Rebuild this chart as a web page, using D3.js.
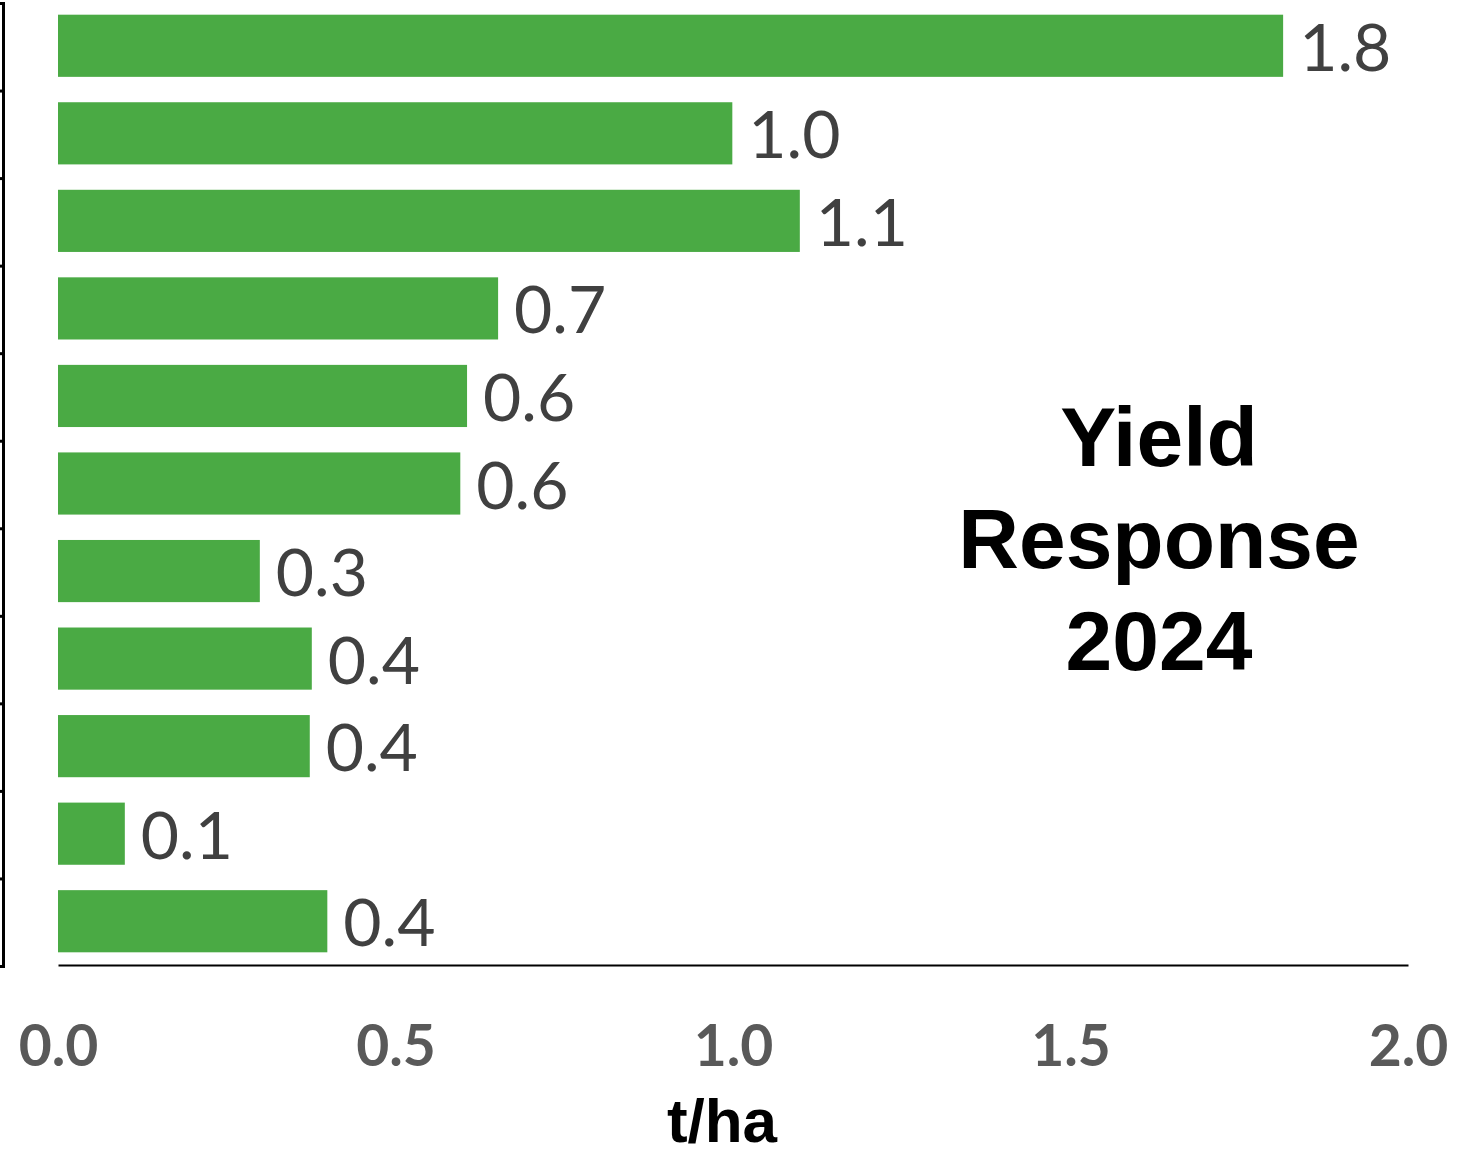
<!DOCTYPE html>
<html>
<head>
<meta charset="utf-8">
<script src="https://cdn.jsdelivr.net/npm/d3@7"></script>
<style>
  body { margin: 0; background: #fff; }
</style>
</head>
<body>
<svg id="chart" width="1473" height="1156"></svg>
<script>
// categories are cut off in the picture, so the names are placeholders
const categories = ['T1', 'T2', 'T3', 'T4', 'T5', 'T6', 'T7', 'T8', 'T9', 'T10', 'T11'];
const yieldValues = [1.815, 0.999, 1.099, 0.652, 0.606, 0.596, 0.299, 0.376, 0.373, 0.099, 0.399];
const valueLabels = ['1.8', '1.0', '1.1', '0.7', '0.6', '0.6', '0.3', '0.4', '0.4', '0.1', '0.4'];
const xTicks = [0, 0.5, 1.0, 1.5, 2.0];
const titleLines = ['Yield', 'Response', '2024'];

const svg = d3.select('#chart');

const x = d3.scaleLinear().domain([0, 2]).range([58, 1408]);
const y = d3.scaleBand().domain(categories).range([2, 965]).paddingInner(0.29).paddingOuter(0.145);

// left axis line with ticks at the band edges
const edge = d3.scaleLinear().domain([0, categories.length]).range([966, 3]);
const leftAxis = svg.append('g')
  .attr('transform', 'translate(3,0)')
  .call(d3.axisLeft(edge).tickValues(d3.range(categories.length + 1)).tickFormat('').tickSize(5).tickSizeOuter(5));
leftAxis.select('.domain').attr('stroke', '#000').attr('stroke-width', 3);
leftAxis.selectAll('.tick line').attr('stroke', '#000').attr('stroke-width', 3);

// bars
svg.append('g').selectAll('rect')
  .data(yieldValues)
  .join('rect')
  .attr('x', x(0))
  .attr('y', (d, i) => y(categories[i]))
  .attr('width', d => x(d) - x(0))
  .attr('height', y.bandwidth())
  .attr('fill', '#4aaa44');

// value labels
svg.append('g').selectAll('text')
  .data(yieldValues)
  .join('text')
  .attr('x', d => x(d) + 16)
  .attr('y', (d, i) => y(categories[i]) + y.bandwidth() / 2 + 25)
  .attr('font-family', 'Lato, sans-serif')
  .attr('font-size', 66)
  .attr('fill', '#404040')
  .text((d, i) => valueLabels[i]);

// x axis
const xAxis = svg.append('g')
  .attr('transform', 'translate(0,965)')
  .call(d3.axisBottom(x).tickValues(xTicks).tickFormat(d3.format('.1f')).tickSize(0).tickPadding(61));
xAxis.select('.domain').attr('stroke', '#000').attr('stroke-width', 2);
xAxis.selectAll('.tick text')
  .attr('font-family', 'Lato, sans-serif')
  .attr('font-weight', 'bold')
  .attr('font-size', 57)
  .attr('fill', '#595959');

// axis title
svg.append('text')
  .attr('x', 722)
  .attr('y', 1142)
  .attr('text-anchor', 'middle')
  .attr('font-family', '"Liberation Sans", Arial, sans-serif')
  .attr('font-weight', 'bold')
  .attr('font-size', 62)
  .attr('fill', '#000')
  .text('t/ha');

// chart title inside plot
svg.append('g').selectAll('text')
  .data(titleLines)
  .join('text')
  .attr('x', 1159)
  .attr('y', (d, i) => 466 + i * 102)
  .attr('text-anchor', 'middle')
  .attr('font-family', '"Liberation Sans", Arial, sans-serif')
  .attr('font-weight', 'bold')
  .attr('font-size', 84)
  .attr('fill', '#000')
  .text(d => d);
</script>
</body>
</html>
